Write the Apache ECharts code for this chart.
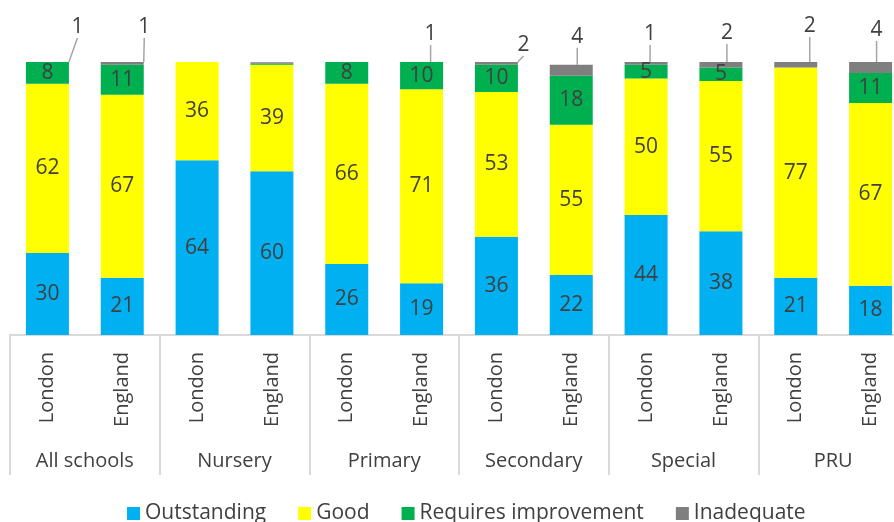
<!DOCTYPE html>
<html>
<head>
<meta charset="utf-8">
<script src="https://cdn.jsdelivr.net/npm/echarts@6/dist/echarts.min.js"></script>
<style>
  html, body { margin: 0; padding: 0; background: #fff; }
  #chart { width: 894px; height: 522px; }
</style>
</head>
<body>
<div id="chart"></div>
<script>
'use strict';
const groups = ['All schools', 'Nursery', 'Primary', 'Secondary', 'Special', 'PRU'];
const areas = ['London', 'England'];
const outstanding = [30, 21, 64, 60, 26, 19, 36, 22, 44, 38, 21, 18];
const good = [62, 67, 36, 39, 66, 71, 53, 55, 50, 55, 77, 67];
const requiresImprovement = [8, 11, 0, 0.4, 8, 10, 10, 18, 5, 5, 0, 11];
const inadequate = [1, 1, 0, 0.5, 0.4, 1, 2, 4, 1, 2, 2, 4];

// where the outside labels of "Inadequate" sit, relative to the top of the bar
const inadequateLabelShift = [
  [30, -20], [22, -20], [0, 0], [0, 0], [0, 0], [9, -13],
  [27, -2], [6, -13], [4, -13], [6, -14], [14, -21], [6, -17]
];

const FONT = 'Open Sans';
const TEXT = '#404040';
const GRIDLINE = '#d9d9d9';

const categories = [];
groups.forEach(() => areas.forEach((a) => categories.push(a)));

function items(values) {
  return values.map((v) => ({
    value: v,
    label: {show: v >= 1},
    labelLine: {show: v >= 1}
  }));
}

function segment(name, color, values) {
  return {
    name: name,
    type: 'bar',
    stack: 'total',
    barWidth: 43,
    itemStyle: {color: color},
    label: {
      show: true,
      position: 'inside',
      color: TEXT,
      fontFamily: FONT,
      fontSize: 21
    },
    data: items(values)
  };
}

const gray = segment('Inadequate', '#7f7f7f', inadequate);
gray.label.position = 'top';
gray.label.distance = 4;
gray.labelLine = {show: true, lineStyle: {color: '#a6a6a6', width: 1.5}};
gray.labelLayout = function(params) {
  const s = inadequateLabelShift[params.dataIndex];
  return {dx: s[0], dy: s[1]};
};

const chart = echarts.init(document.getElementById('chart'));
chart.setOption({
  animation: false,
  textStyle: {fontFamily: FONT},
  grid: {left: 10, top: 62, width: 898, height: 273, outerBoundsMode: 'none'},
  legend: {
    bottom: -7,
    left: 122,
    itemWidth: 13,
    itemHeight: 13,
    itemGap: 32,
    icon: 'rect',
    textStyle: {color: TEXT, fontFamily: FONT, fontSize: 21},
    data: ['Outstanding', 'Good', 'Requires improvement', 'Inadequate']
  },
  xAxis: [
    {
      type: 'category',
      data: categories,
      axisLine: {lineStyle: {color: GRIDLINE, width: 2}},
      axisTick: {show: false},
      axisLabel: {
        rotate: 90,
        margin: 17,
        color: TEXT,
        fontFamily: FONT,
        fontSize: 20
      }
    },
    {
      type: 'category',
      position: 'bottom',
      data: groups,
      axisLine: {show: false},
      axisTick: {show: true, length: 140, lineStyle: {color: GRIDLINE, width: 2}},
      axisLabel: {
        margin: 116,
        color: TEXT,
        fontFamily: FONT,
        fontSize: 20
      }
    }
  ],
  yAxis: {
    type: 'value',
    min: 0,
    max: 100,
    show: false,
    splitLine: {show: false}
  },
  series: [
    segment('Outstanding', '#00b0f0', outstanding),
    segment('Good', '#ffff00', good),
    segment('Requires improvement', '#00b050', requiresImprovement),
    gray
  ]
});
</script>
</body>
</html>
